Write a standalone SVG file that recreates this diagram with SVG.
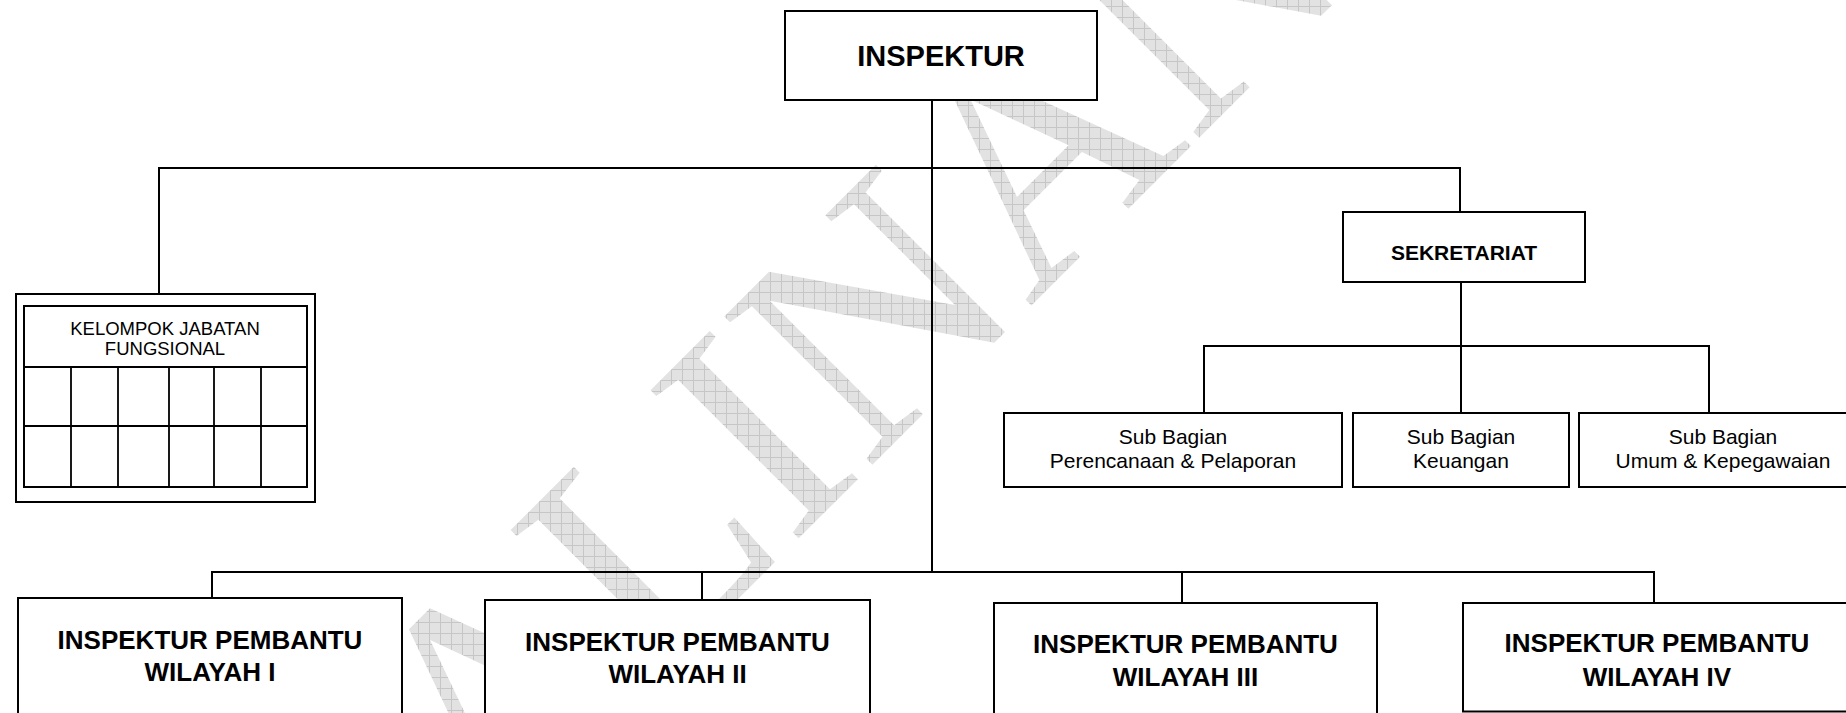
<svg xmlns="http://www.w3.org/2000/svg" width="1846" height="713" viewBox="0 0 1846 713">
  <defs>
    <!-- light grey grid fill for the background watermark -->
    <pattern id="hatch" width="11" height="11" patternUnits="userSpaceOnUse" patternTransform="rotate(45)">
      <rect width="11" height="11" fill="#e2e2e2"/>
      <path d="M0 0.5H11M0.5 0V11" stroke="#c6c6c6" stroke-width="1" fill="none"/>
    </pattern>
    <style>
      .box { fill: #ffffff; stroke: #000000; stroke-width: 2; }
      .grid { fill: none; stroke: #000000; stroke-width: 1.8; }
      .wire { fill: none; stroke: #000000; stroke-width: 2; stroke-linecap: square; }
      .t { font-family: "Liberation Sans", Arial, sans-serif; fill: #000000; text-anchor: middle; }
      .b { font-weight: bold; }
      .mark { font-family: "Liberation Serif", "Times New Roman", serif; font-size: 320px; fill: url(#hatch); }
    </style>
  </defs>

  <rect width="1846" height="713" fill="#ffffff"/>

  <!-- watermark -->
  <text class="mark" transform="translate(363 974) rotate(-45)">SALINAN</text>

  <!-- connectors -->
  <g id="connectors">
    <path class="wire" d="M932 100V572"/>
    <path class="wire" d="M159 168H1460"/>
    <path class="wire" d="M159 168V294"/>
    <path class="wire" d="M1460 168V212"/>
    <path class="wire" d="M1461 282V346"/>
    <path class="wire" d="M1204 346H1709"/>
    <path class="wire" d="M1204 346V413M1461 346V413M1709 346V413"/>
    <path class="wire" d="M212 572H1654"/>
    <path class="wire" d="M212 572V598M702 572V600M1182 572V603M1654 572V603"/>
  </g>

  <!-- head -->
  <g id="inspektur">
    <rect class="box" x="785" y="11" width="312" height="89"/>
    <text class="t b" x="941" y="66" font-size="29">INSPEKTUR</text>
  </g>

  <!-- functional group -->
  <g id="kelompok-jabatan-fungsional">
    <rect class="box" x="16" y="294" width="299" height="208"/>
    <rect class="box" x="24" y="306" width="283" height="181" stroke-width="2.3"/>
    <path class="grid" d="M24 367H307M24 426H307M71 367V487M118 367V487M169 367V487M214 367V487M261 367V487"/>
    <text class="t" x="165" y="335" font-size="18.5">KELOMPOK JABATAN</text>
    <text class="t" x="165" y="355" font-size="18.5">FUNGSIONAL</text>
  </g>

  <!-- secretariat -->
  <g id="sekretariat">
    <rect class="box" x="1343" y="212" width="242" height="70"/>
    <text class="t b" x="1464" y="260" font-size="21">SEKRETARIAT</text>
  </g>

  <g id="sub-perencanaan">
    <rect class="box" x="1004" y="413" width="338" height="74"/>
    <text class="t" x="1173" y="444" font-size="21">Sub Bagian</text>
    <text class="t" x="1173" y="467.5" font-size="21">Perencanaan &amp; Pelaporan</text>
  </g>

  <g id="sub-keuangan">
    <rect class="box" x="1353" y="413" width="216" height="74"/>
    <text class="t" x="1461" y="444" font-size="21">Sub Bagian</text>
    <text class="t" x="1461" y="467.5" font-size="21">Keuangan</text>
  </g>

  <g id="sub-umum">
    <rect class="box" x="1579" y="413" width="290" height="74"/>
    <text class="t" x="1723" y="444" font-size="21">Sub Bagian</text>
    <text class="t" x="1723" y="467.5" font-size="21">Umum &amp; Kepegawaian</text>
  </g>

  <!-- regional assistant inspectors -->
  <g id="wilayah-1">
    <rect class="box" x="18" y="598" width="384" height="130"/>
    <text class="t b" x="210" y="648.5" font-size="26">INSPEKTUR PEMBANTU</text>
    <text class="t b" x="210" y="681" font-size="26">WILAYAH I</text>
  </g>

  <g id="wilayah-2">
    <rect class="box" x="485" y="600" width="385" height="130"/>
    <text class="t b" x="677.5" y="650.5" font-size="26">INSPEKTUR PEMBANTU</text>
    <text class="t b" x="677.5" y="683" font-size="26">WILAYAH II</text>
  </g>

  <g id="wilayah-3">
    <rect class="box" x="994" y="603" width="383" height="130"/>
    <text class="t b" x="1185.5" y="653" font-size="26">INSPEKTUR PEMBANTU</text>
    <text class="t b" x="1185.5" y="685.5" font-size="26">WILAYAH III</text>
  </g>

  <g id="wilayah-4">
    <rect class="box" x="1463" y="603" width="390" height="108.5"/>
    <text class="t b" x="1657" y="652" font-size="26">INSPEKTUR PEMBANTU</text>
    <text class="t b" x="1657" y="685.5" font-size="26">WILAYAH IV</text>
  </g>
</svg>
